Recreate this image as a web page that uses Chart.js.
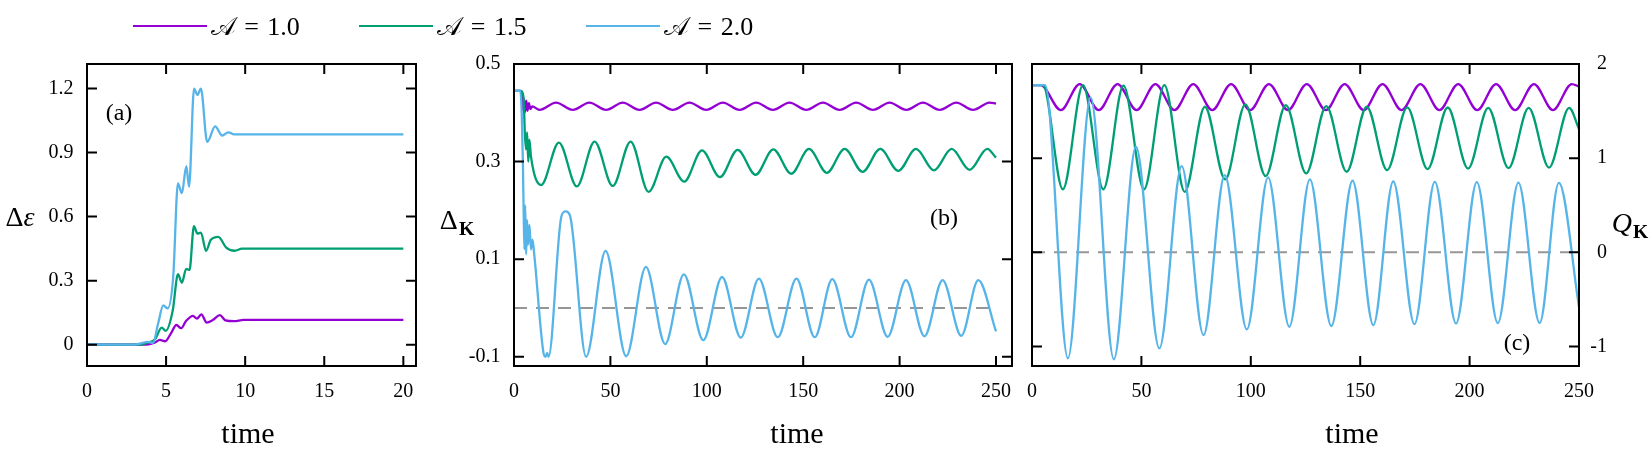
<!DOCTYPE html>
<html>
<head>
<meta charset="utf-8">
<title>Delta epsilon, Delta K and Q K versus time</title>
<script src="https://cdn.jsdelivr.net/npm/chart.js@4/dist/chart.umd.min.js"></script>
<style>
  html, body { margin:0; padding:0; background:#fff; }
  #wrap { position:relative; width:1652px; height:454px; overflow:hidden; background:#fff;
          font-family:"Liberation Serif","DejaVu Serif",serif; color:#000; }
  #wrap canvas { position:absolute; left:0; top:0; }
  .lbl { position:absolute; white-space:nowrap; line-height:1; transform:translate(-50%,-50%); }
  .lbl sub { font-size:70%; font-weight:bold; vertical-align:-0.3em; line-height:0; margin-left:1px; }
  .leg-line { position:absolute; height:0; border-top:2.5px solid; }
  .leg-text { position:absolute; white-space:nowrap; line-height:1; font-size:26px; word-spacing:2px;
              transform:translateY(-50%); }
</style>
</head>
<body>
<div id="wrap">
  <canvas id="chartA" width="1652" height="454"></canvas>
  <canvas id="chartB" width="1652" height="454"></canvas>
  <canvas id="chartC" width="1652" height="454"></canvas>
  <div id="legend"></div>
  <span class="lbl" style="left:20px;top:217px;font-size:28px">Δ<i>ε</i></span>
  <span class="lbl" style="left:457px;top:220px;font-size:28px">Δ<sub>K</sub></span>
  <span class="lbl" style="left:1630px;top:223px;font-size:28px"><i>Q</i><sub>K</sub></span>
  <span class="lbl" style="left:119px;top:112px;font-size:24px">(a)</span>
  <span class="lbl" style="left:944px;top:217px;font-size:24px">(b)</span>
  <span class="lbl" style="left:1517px;top:342px;font-size:24px">(c)</span>
  <span class="lbl" style="left:248px;top:433px;font-size:30px">time</span>
  <span class="lbl" style="left:797px;top:433px;font-size:30px">time</span>
  <span class="lbl" style="left:1352px;top:433px;font-size:30px">time</span>
</div>
<script>
// ---------- series labels and colours ----------
const seriesLabels = ['𝒜 = 1.0', '𝒜 = 1.5', '𝒜 = 2.0'];
const seriesColors = ['#9400D3', '#009E73', '#56B4E9'];
const refColor = '#969696';

// ---------- tick values ----------
const xTicksA = [0, 5, 10, 15, 20];
const yTicksA = [0, 0.3, 0.6, 0.9, 1.2];
const xTicksB = [0, 50, 100, 150, 200, 250];
const yTicksB = [-0.1, 0.1, 0.3, 0.5];
const xTicksC = [0, 50, 100, 150, 200, 250];
const yTicksC = [-1, 0, 1, 2];

// ---------- panel (a): Delta epsilon vs time ----------
const aTime1 = [0, 3.0, 3.9, 4.3, 4.6, 4.95, 5.3, 5.65, 5.95, 6.25, 6.7, 6.95, 7.23, 7.57, 7.95, 8.4, 8.75, 9.3, 9.9, 20];
const aVal1  = [0, 0, 0.002, 0.01, 0.022, 0.016, 0.052, 0.092, 0.077, 0.11, 0.135, 0.122, 0.142, 0.103, 0.115, 0.138, 0.114, 0.11, 0.116, 0.116];
const aTime2 = [0, 3.3, 3.85, 4.3, 4.72, 4.98, 5.42, 5.75, 6.0, 6.27, 6.48, 6.76, 6.98, 7.2, 7.53, 7.82, 8.3, 8.8, 9.33, 9.8, 20];
const aVal2  = [0, 0, 0.01, 0.025, 0.08, 0.065, 0.16, 0.33, 0.29, 0.355, 0.35, 0.555, 0.52, 0.525, 0.44, 0.49, 0.505, 0.455, 0.44, 0.45, 0.45];
const aTime3 = [0, 3.0, 3.4, 3.84, 4.17, 4.5, 4.82, 5.1, 5.45, 5.75, 6.0, 6.28, 6.45, 6.77, 6.98, 7.2, 7.6, 8.1, 8.55, 8.93, 9.3, 20];
const aVal3  = [0, 0, 0.006, 0.013, 0.008, 0.1, 0.184, 0.17, 0.317, 0.755, 0.71, 0.836, 0.74, 1.2, 1.17, 1.2, 0.95, 1.023, 0.98, 0.995, 0.985, 0.985];

// ---------- panel (b): Delta_K vs time ----------
const bTime1 = [0, 3.2, 4.0, 4.6, 5.2, 5.8, 6.4, 7.0, 7.7, 8.5, 9.5,
  13.2, 21.8, 30.5, 39.1, 47.8, 56.4, 65.1, 73.7, 82.4, 91.0, 99.7, 108.3, 117.0, 125.6,
  134.3, 142.9, 151.6, 160.2, 168.9, 177.5, 186.2, 194.8, 203.5, 212.1, 220.8, 229.4, 238.1, 246.7, 250];
const bVal1  = [0.445, 0.445, 0.44, 0.405, 0.428, 0.402, 0.425, 0.404, 0.42, 0.408, 0.413,
  0.406, 0.421, 0.406, 0.421, 0.406, 0.421, 0.406, 0.421, 0.406, 0.421, 0.406, 0.421, 0.406, 0.421,
  0.406, 0.421, 0.406, 0.421, 0.406, 0.421, 0.406, 0.421, 0.406, 0.421, 0.406, 0.421, 0.406, 0.421, 0.419];
const bTime2 = [0, 3.5, 5.0, 5.6, 6.2, 6.8, 7.4, 8.0, 8.8,
  14.1, 23.3, 32.6, 41.8, 51.2, 60.5, 69.8, 79.0, 88.3, 97.5, 106.8, 116.0, 125.3, 134.5,
  143.8, 153.0, 162.3, 171.5, 180.8, 190.0, 199.3, 208.5, 217.8, 227.0, 236.3, 245.5, 250];
const bVal2  = [0.445, 0.445, 0.43, 0.36, 0.325, 0.36, 0.30, 0.345, 0.31,
  0.252, 0.339, 0.249, 0.341, 0.25, 0.341, 0.238, 0.31, 0.259, 0.323, 0.268, 0.324, 0.273, 0.325,
  0.275, 0.326, 0.277, 0.326, 0.279, 0.326, 0.281, 0.326, 0.282, 0.326, 0.283, 0.326, 0.308];
const bTime3 = [0, 3.3, 4.0, 4.6, 5.0, 5.4, 5.8, 6.3, 6.8, 7.3, 8.0, 8.8, 9.6, 10.5,
  15.2, 16.4, 17.2, 17.9, 24.6, 26.8, 29.0,
  37.4, 47.5, 58.2, 68.4, 78.4, 88.1, 98.2, 107.9, 117.6, 127.0, 136.8, 146.5, 156.0,
  165.1, 174.8, 184.1, 193.8, 203.3, 212.9, 222.3, 232.0, 240.8, 250];
const bVal3  = [0.445, 0.445, 0.40, 0.30, 0.20, 0.12, 0.21, 0.11, 0.18, 0.13, 0.17, 0.12, 0.14, 0.11,
  -0.09, -0.1, -0.092, -0.1, 0.188, 0.198, 0.19,
  -0.1, 0.117, -0.099, 0.084, -0.074, 0.069, -0.066, 0.0634, -0.061, 0.06, -0.06, 0.06, -0.06,
  0.059, -0.06, 0.058, -0.059, 0.057, -0.058, 0.057, -0.057, 0.057, -0.048];
const bRefTime = [0, 250];
const bRefVal  = [0, 0];

// ---------- panel (c): Q_K vs time ----------
const cTime1 = [0, 4.0, 13.2, 21.8, 30.5, 39.1, 47.8, 56.4, 65.1, 73.7, 82.4, 91.0, 99.7, 108.3, 117.0,
  125.6, 134.3, 142.9, 151.6, 160.2, 168.9, 177.5, 186.2, 194.8, 203.5, 212.1, 220.8, 229.4, 238.1, 246.7, 250];
const cVal1  = [1.776, 1.776, 1.51, 1.787, 1.51, 1.787, 1.51, 1.787, 1.51, 1.787, 1.51, 1.787, 1.51, 1.787, 1.51,
  1.787, 1.51, 1.787, 1.51, 1.787, 1.51, 1.787, 1.51, 1.787, 1.51, 1.787, 1.51, 1.787, 1.51, 1.787, 1.76];
const cTime2 = [0, 5.0, 14.1, 23.3, 32.6, 41.8, 51.2, 60.5, 69.8, 79.0, 88.3, 97.5, 106.8, 116.0, 125.3,
  134.5, 143.8, 153.0, 162.3, 171.5, 180.8, 190.0, 199.3, 208.5, 217.8, 227.0, 236.3, 245.5, 250];
const cVal2  = [1.776, 1.776, 0.669, 1.776, 0.669, 1.77, 0.669, 1.776, 0.643, 1.546, 0.775, 1.571, 0.81, 1.564, 0.838,
  1.553, 0.856, 1.546, 0.874, 1.54, 0.884, 1.538, 0.89, 1.535, 0.895, 1.535, 0.9, 1.535, 1.31];
const cTime3 = [0, 6.0, 16.4, 26.8, 37.4, 47.5, 58.2, 68.4, 78.4, 88.1, 98.2, 107.9, 117.6, 127.0,
  136.8, 146.5, 156.0, 165.1, 174.8, 184.1, 193.8, 203.3, 212.9, 222.3, 232.0, 240.8, 250];
const cVal3  = [1.776, 1.776, -1.125, 1.645, -1.136, 1.121, -1.02, 0.916, -0.878, 0.82, -0.818, 0.796, -0.79, 0.775,
  -0.782, 0.76, -0.772, 0.752, -0.762, 0.748, -0.755, 0.745, -0.752, 0.74, -0.75, 0.738, -0.58];
const cRefTime = [0, 250];
const cRefVal  = [0, 0];

// ---------- helpers ----------
const tickFont = { family: "'Liberation Serif', 'DejaVu Serif', serif", size: 20 };

function pts(xs, ys) { return xs.map((x, i) => ({ x: x, y: ys[i] })); }

function curve(label, xs, ys, color) {
  return { label: label, data: pts(xs, ys), borderColor: color, backgroundColor: color,
           borderWidth: 2.3, pointRadius: 0, pointHoverRadius: 0, fill: false,
           cubicInterpolationMode: 'monotone' };
}
function refLine(xs, ys) {
  return { label: 'ref', data: pts(xs, ys), borderColor: refColor, borderWidth: 2,
           borderDash: [13, 9], pointRadius: 0, fill: false, tension: 0 };
}

function xScale(min, max, ticks, height) {
  return { type: 'linear', position: 'bottom', min: min, max: max,
    grid: { display: false, drawTicks: false }, border: { display: false },
    ticks: { font: tickFont, color: '#000', padding: 14, maxRotation: 0, autoSkip: false,
             callback: v => String(v) },
    afterBuildTicks: s => { s.ticks = ticks.map(v => ({ value: v })); },
    afterFit: s => { s.height = height; } };
}
function yScale(min, max, ticks, width, position) {
  return { type: 'linear', position: position, min: min, max: max,
    grid: { display: false, drawTicks: false }, border: { display: false },
    ticks: { font: tickFont, color: '#000', padding: 13.5, autoSkip: false,
             crossAlign: position === 'right' ? 'far' : 'near',
             callback: v => String(v) },
    afterBuildTicks: s => { s.ticks = ticks.map(v => ({ value: v })); },
    afterFit: s => { s.width = width; } };
}

// frame + inward mirrored ticks on all four sides
const framePlugin = {
  id: 'frame',
  afterDatasetsDraw(chart) {
    const { ctx, chartArea: ca, scales } = chart;
    const xs = scales.x, ys = scales.y;
    const L = 10;
    ctx.save();
    ctx.strokeStyle = '#000';
    ctx.lineWidth = 2;
    ctx.beginPath();
    xs.ticks.forEach(t => {
      const p = xs.getPixelForValue(t.value);
      ctx.moveTo(p, ca.bottom); ctx.lineTo(p, ca.bottom - L);
      ctx.moveTo(p, ca.top); ctx.lineTo(p, ca.top + L);
    });
    ys.ticks.forEach(t => {
      const p = ys.getPixelForValue(t.value);
      ctx.moveTo(ca.left, p); ctx.lineTo(ca.left + L, p);
      ctx.moveTo(ca.right, p); ctx.lineTo(ca.right - L, p);
    });
    ctx.stroke();
    ctx.strokeRect(ca.left, ca.top, ca.right - ca.left, ca.bottom - ca.top);
    ctx.restore();
  }
};

function baseOptions(padding, scales) {
  return { responsive: false, animation: false, events: [],
    layout: { padding: padding },
    plugins: { legend: { display: false }, tooltip: { enabled: false } },
    elements: { point: { radius: 0 } },
    scales: scales };
}

// ---------- panel (a) ----------
new Chart(document.getElementById('chartA'), {
  type: 'line',
  data: { datasets: [
    curve(seriesLabels[2], aTime3, aVal3, seriesColors[2]),
    curve(seriesLabels[1], aTime2, aVal2, seriesColors[1]),
    curve(seriesLabels[0], aTime1, aVal1, seriesColors[0])
  ] },
  options: baseOptions({ left: 27, right: 1236, top: 64, bottom: 0 }, {
    x: xScale(0, 20.8, xTicksA, 88),
    y: yScale(-0.1, 1.315, yTicksA, 60, 'left')
  }),
  plugins: [framePlugin]
});

// ---------- panel (b) ----------
new Chart(document.getElementById('chartB'), {
  type: 'line',
  data: { datasets: [
    curve(seriesLabels[2], bTime3, bVal3, seriesColors[2]),
    curve(seriesLabels[1], bTime2, bVal2, seriesColors[1]),
    curve(seriesLabels[0], bTime1, bVal1, seriesColors[0]),
    refLine(bRefTime, bRefVal)
  ] },
  options: baseOptions({ left: 454, right: 640, top: 64, bottom: 0 }, {
    x: xScale(0, 258.3, xTicksB, 88),
    y: yScale(-0.119, 0.5, yTicksB, 60, 'left')
  }),
  plugins: [framePlugin]
});

// ---------- panel (c) ----------
new Chart(document.getElementById('chartC'), {
  type: 'line',
  data: { datasets: [
    curve(seriesLabels[2], cTime3, cVal3, seriesColors[2]),
    curve(seriesLabels[1], cTime2, cVal2, seriesColors[1]),
    curve(seriesLabels[0], cTime1, cVal1, seriesColors[0]),
    refLine(cRefTime, cRefVal)
  ] },
  options: baseOptions({ left: 1032, right: 45, top: 64, bottom: 0 }, {
    x: xScale(0, 250, xTicksC, 88),
    y: yScale(-1.207, 2, yTicksC, 28, 'right')
  }),
  plugins: [framePlugin]
});

// ---------- legend (HTML) ----------
const legendLineLeft = [132.7, 359.3, 586.0];
const legend = document.getElementById('legend');
seriesLabels.forEach((lab, i) => {
  const ln = document.createElement('div');
  ln.className = 'leg-line';
  ln.style.left = legendLineLeft[i] + 'px';
  ln.style.top = '24.5px';
  ln.style.width = '74px';
  ln.style.borderTopColor = seriesColors[i];
  legend.appendChild(ln);
  const tx = document.createElement('span');
  tx.className = 'leg-text';
  tx.style.left = (legendLineLeft[i] + 78) + 'px';
  tx.style.top = '27px';
  tx.textContent = lab;
  legend.appendChild(tx);
});
</script>
</body>
</html>
